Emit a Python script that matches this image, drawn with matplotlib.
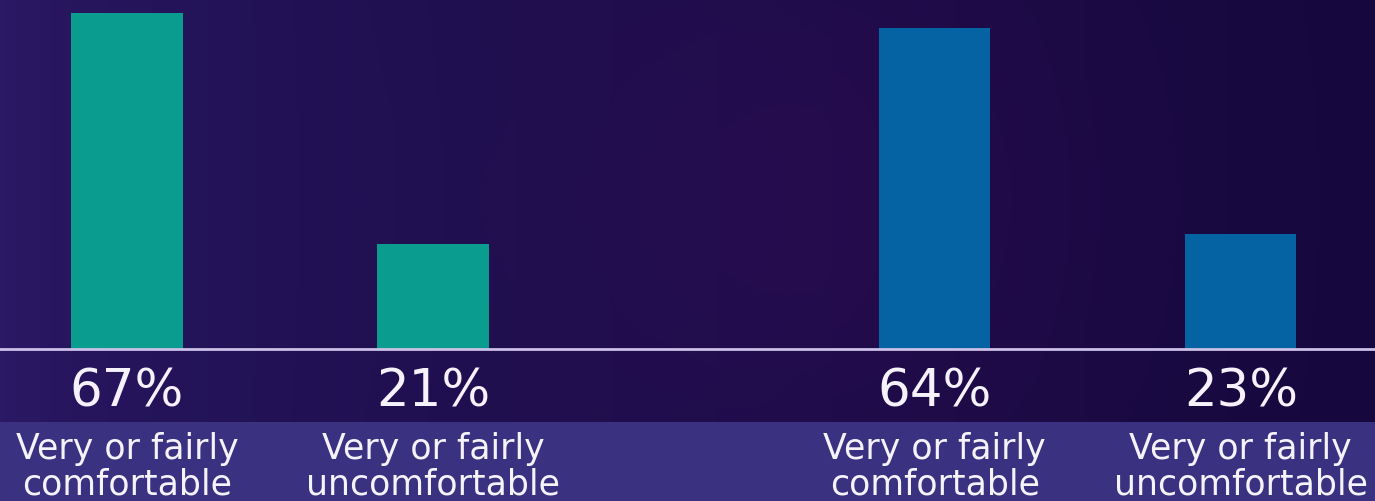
import numpy as np
import matplotlib; matplotlib.use("Agg"); import matplotlib.pyplot as plt
from matplotlib import transforms
from matplotlib.patches import Rectangle

# survey results (% of respondents)
pct = [67, 21, 64, 23]
labels = ["Very or fairly\ncomfortable", "Very or fairly\nuncomfortable",
          "Very or fairly\ncomfortable", "Very or fairly\nuncomfortable"]
colors = ["#0a9d8f", "#0a9d8f", "#0563a3", "#0563a3"]
xpos = [0, 1, 2.64, 3.64]

W, H = 1375, 502
fig = plt.figure(figsize=(W/100, H/100), dpi=100)

# background: dark purple gradient + lighter label band
bg = fig.add_axes([0, 0, 1, 1]); bg.set_xlim(0, W); bg.set_ylim(H, 0); bg.axis("off")
xx, yy = np.meshgrid(np.linspace(0, 1, W), np.linspace(0, 1, H))
left = np.array([44, 26, 104]); right = np.array([22, 8, 62])
t = xx[..., None]**0.5
img = left*(1-t) + right*t
glow = np.exp(-(((xx-0.61)*W)**2 + ((yy-0.4)*H)**2)/(2*200**2))
img += glow[..., None]*np.array([10, 0, 6])
bg.imshow(np.clip(img, 0, 255).astype(np.uint8), extent=[0, W, H, 0], aspect="auto")
bg.add_patch(Rectangle((0, 423), W, H-423, color="#3a3180", lw=0))

# bars
ax = fig.add_axes([0, (H-350)/H, 1, 350/H])
ax.set_xlim(-127/306, (W-127)/306); ax.set_ylim(0, 350/5.02)
ax.patch.set_alpha(0); ax.axis("off")
ax.bar(xpos, pct, width=0.363, color=colors, align="center")
ax.axhline(0, color="#cbc0e8", lw=2, clip_on=False)

trans = transforms.blended_transform_factory(ax.transData, fig.transFigure)
for x, p, lab in zip(xpos, pct, labels):
    ax.text(x, (H-407)/H, f"{p}%", transform=trans, ha="center", va="baseline",
            fontsize=37, color="#f6f2fb", clip_on=False)
    ax.text(x, (H-495)/H, lab, transform=trans, ha="center", va="baseline",
            fontsize=25, color="#f6f2fb", linespacing=1.08, clip_on=False)

fig.savefig("out.png", dpi=100)
